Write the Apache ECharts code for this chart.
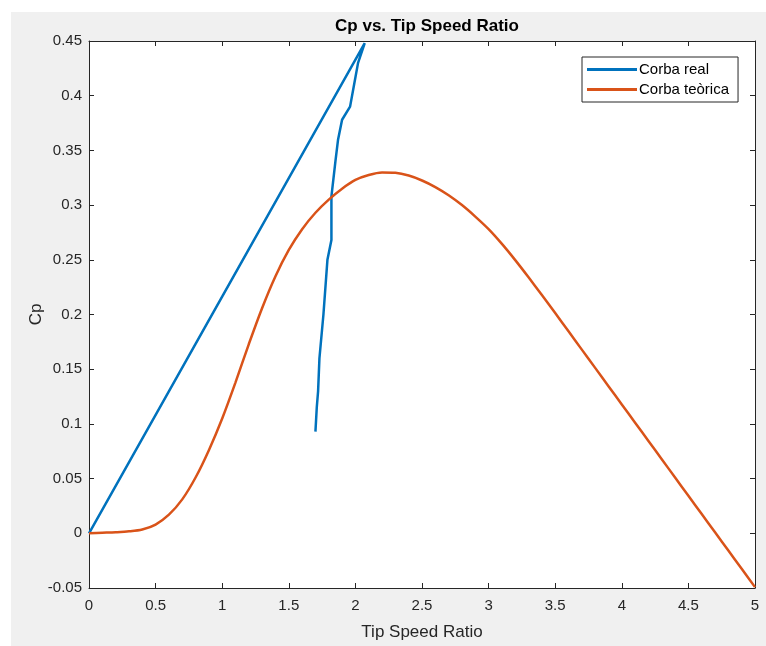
<!DOCTYPE html>
<html>
<head>
<meta charset="utf-8">
<script src="https://cdn.jsdelivr.net/npm/echarts@6/dist/echarts.min.js"></script>
<style>
  html, body { margin: 0; padding: 0; background: #fff; }
  #chart { width: 766px; height: 646px; }
</style>
</head>
<body>
<div id="chart"></div>
<script>
// Corba real: measured points, in drawing order (x = TSR, y = Cp)
const realX = [0, 2.07, 2.02, 1.99, 1.96, 1.90, 1.87, 1.85, 1.82, 1.82, 1.79, 1.76, 1.73, 1.72, 1.71, 1.70];
const realY = [0, 0.448, 0.430, 0.410, 0.390, 0.378, 0.360, 0.340, 0.308, 0.268, 0.250, 0.200, 0.160, 0.130, 0.115, 0.093];

// Corba teòrica (read every 0.1 of TSR)
const teoX = [0, 0.1, 0.2, 0.3, 0.4, 0.5, 0.6, 0.7, 0.8, 0.9, 1.0, 1.1, 1.2, 1.3, 1.4, 1.5, 1.6, 1.7, 1.8, 1.9,
  2.0, 2.1, 2.2, 2.3, 2.4, 2.5, 2.6, 2.7, 2.8, 2.9, 3.0, 3.1, 3.2, 3.3, 3.4, 3.5, 3.6, 3.7, 3.8, 3.9,
  4.0, 4.1, 4.2, 4.3, 4.4, 4.5, 4.6, 4.7, 4.8, 4.9, 5.0];
const teoY = [0, 0.0005, 0.001, 0.0018, 0.0035, 0.008, 0.017, 0.031, 0.051, 0.076, 0.105, 0.138, 0.173, 0.206,
  0.235, 0.259, 0.278, 0.293, 0.305, 0.315, 0.323, 0.3275, 0.3298, 0.3295, 0.327, 0.3225, 0.3165, 0.309, 0.300,
  0.2895, 0.278, 0.2645, 0.2497, 0.234, 0.2178, 0.2013, 0.1846, 0.1679, 0.1512, 0.1345, 0.1178, 0.1011,
  0.0844, 0.0677, 0.051, 0.0343, 0.0176, 0.0009, -0.0158, -0.0325, -0.0492];

const pair = (xs, ys) => xs.map((x, i) => [x, ys[i]]);

const chart = echarts.init(document.getElementById("chart"));
const axisColor = "#262626";
const font = "Liberation Sans, Arial, sans-serif";

const tickStyle = { inside: true, length: 5, lineStyle: { color: axisColor } };
const lineStyle = { onZero: false, lineStyle: { color: axisColor } };

const option = {
  animation: false,
  backgroundColor: "#fff",
  graphic: [
    { type: "rect", left: 11, top: 12, z: -10, shape: { width: 755, height: 634 }, style: { fill: "#f0f0f0" } },
  ],
  title: {
    text: "Cp vs. Tip Speed Ratio",
    left: 422,
    top: 13,
    textAlign: "center",
    textStyle: { fontFamily: font, fontSize: 17, fontWeight: "bold", color: "#000" },
  },
  legend: {
    left: 582,
    top: 57,
    orient: "vertical",
    icon: "rect",
    itemWidth: 50,
    itemHeight: 3,
    itemGap: 5,
    padding: [5, 9, 5, 5],
    backgroundColor: "#fff",
    borderColor: axisColor,
    borderWidth: 1,
    borderRadius: 0,
    textStyle: { fontFamily: font, fontSize: 15, color: "#000", padding: [0, 0, 0, -3] },
    data: ["Corba real", "Corba teòrica"],
  },
  grid: {
    left: 89, top: 41, right: 11, bottom: 57,
    show: true, backgroundColor: "#fff", borderWidth: 0,
  },
  xAxis: [
    {
      type: "value", min: 0, max: 5, interval: 0.5,
      name: "Tip Speed Ratio", nameLocation: "middle", nameGap: 36, nameMoveOverlap: false,
      nameTextStyle: { fontFamily: font, fontSize: 17, color: axisColor },
      axisLine: lineStyle,
      axisTick: tickStyle,
      axisLabel: { fontFamily: font, fontSize: 15, color: axisColor, margin: 10 },
      splitLine: { show: false },
    },
    {
      type: "value", min: 0, max: 5, interval: 0.5, position: "top",
      axisLine: lineStyle,
      axisTick: tickStyle,
      axisLabel: { show: false },
      splitLine: { show: false },
    },
  ],
  yAxis: [
    {
      type: "value", min: -0.05, max: 0.45, interval: 0.05,
      name: "Cp", nameLocation: "middle", nameGap: 44, nameMoveOverlap: false,
      nameTextStyle: { fontFamily: font, fontSize: 17, color: axisColor },
      axisLine: Object.assign({ show: true }, lineStyle),
      axisTick: Object.assign({ show: true }, tickStyle),
      axisLabel: { fontFamily: font, fontSize: 15, color: axisColor, margin: 7 },
      splitLine: { show: false },
    },
    {
      type: "value", min: -0.05, max: 0.45, interval: 0.05, position: "right",
      axisLine: Object.assign({ show: true }, lineStyle),
      axisTick: Object.assign({ show: true }, tickStyle),
      axisLabel: { show: false },
      splitLine: { show: false },
    },
  ],
  series: [
    {
      name: "Corba real", type: "line", data: pair(realX, realY),
      showSymbol: false, symbol: "none", smooth: false,
      itemStyle: { color: "#0072BD" },
      lineStyle: { color: "#0072BD", width: 2.5 },
    },
    {
      name: "Corba teòrica", type: "line", data: pair(teoX, teoY),
      showSymbol: false, symbol: "none", smooth: 0.3,
      itemStyle: { color: "#D95319" },
      lineStyle: { color: "#D95319", width: 2.5 },
    },
  ],
};
chart.setOption(option);
</script>
</body>
</html>
